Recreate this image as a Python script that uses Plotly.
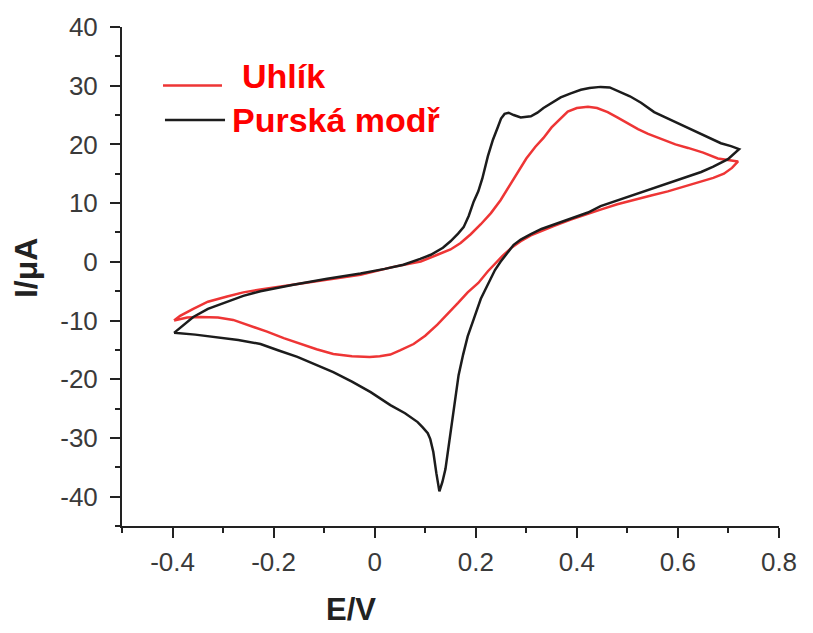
import plotly.graph_objects as go

# Prussian blue (black) cyclic voltammogram: upper (anodic) branch then lower (return) branch
pb_E = [-0.397, -0.375, -0.359, -0.330, -0.292, -0.260, -0.226, -0.161, -0.094, -0.028,
        0.020, 0.057, 0.090, 0.111, 0.135, 0.150, 0.165, 0.176, 0.186, 0.196,
        0.205, 0.213, 0.224, 0.234, 0.243, 0.250, 0.257, 0.265, 0.275, 0.289,
        0.309, 0.322, 0.334, 0.350, 0.368, 0.388, 0.408, 0.425, 0.447, 0.465,
        0.481, 0.505, 0.527, 0.553, 0.590, 0.620, 0.650, 0.685, 0.705, 0.721,
        0.699, 0.670, 0.646, 0.612, 0.580, 0.547, 0.513, 0.480, 0.447, 0.422,
        0.388, 0.354, 0.330, 0.309, 0.289, 0.275, 0.262, 0.249, 0.238, 0.229,
        0.220, 0.210, 0.197, 0.184, 0.175, 0.166, 0.160, 0.154, 0.147, 0.140,
        0.134, 0.128, 0.122, 0.116, 0.110, 0.105, 0.095, 0.085, 0.060, 0.031,
        -0.008, -0.045, -0.082, -0.120, -0.153, -0.190, -0.226, -0.270, -0.312, -0.355,
        -0.397]
pb_I = [-12.1, -10.6, -9.4, -8.0, -6.8, -5.8, -5.0, -3.9, -2.9, -2.0,
        -1.2, -0.5, 0.5, 1.2, 2.4, 3.5, 4.8, 5.9, 7.8, 10.3,
        12.0, 14.2, 18.0, 20.8, 22.8, 24.4, 25.2, 25.4, 25.0, 24.6,
        24.8, 25.4, 26.2, 27.0, 28.0, 28.7, 29.3, 29.6, 29.8, 29.7,
        29.1, 28.2, 27.1, 25.5, 24.0, 22.8, 21.6, 20.2, 19.7, 19.2,
        17.5, 16.2, 15.3, 14.3, 13.4, 12.5, 11.5, 10.5, 9.5, 8.4,
        7.4, 6.4, 5.6, 4.7, 3.8, 2.9, 1.5, 0.0, -1.4, -2.9,
        -4.5, -6.3, -9.5, -12.7, -15.8, -19.3, -23.0, -26.9, -31.0, -35.3,
        -37.5, -39.1, -36.0, -32.4, -30.2, -29.2, -28.2, -27.3, -25.8, -24.4,
        -22.2, -20.4, -18.8, -17.4, -16.2, -15.1, -14.0, -13.3, -12.8, -12.4,
        -12.1]

# Carbon (red) cyclic voltammogram
c_E = [-0.397, -0.385, -0.359, -0.330, -0.292, -0.260, -0.226, -0.161, -0.094, -0.028,
       0.035, 0.091, 0.124, 0.150, 0.170, 0.190, 0.210, 0.230, 0.249, 0.265,
       0.283, 0.300, 0.318, 0.334, 0.350, 0.368, 0.382, 0.400, 0.422, 0.440,
       0.461, 0.480, 0.501, 0.521, 0.541, 0.566, 0.595, 0.620, 0.650, 0.679,
       0.700, 0.719,
       0.707, 0.691, 0.670, 0.646, 0.613, 0.580, 0.547, 0.513, 0.480, 0.447,
       0.422, 0.388, 0.354, 0.330, 0.309, 0.289, 0.272, 0.255, 0.240, 0.224,
       0.205, 0.184, 0.165, 0.145, 0.124, 0.100, 0.077, 0.050, 0.031, 0.010,
       -0.010, -0.045, -0.082, -0.115, -0.147, -0.180, -0.213, -0.250, -0.280, -0.310,
       -0.345, -0.371, -0.397]
c_I = [-10.0, -9.2, -8.0, -6.8, -5.9, -5.2, -4.7, -3.9, -3.0, -2.2,
       -0.9, 0.05, 1.2, 2.1, 3.2, 4.7, 6.4, 8.3, 10.5, 12.7,
       15.4, 17.6, 19.6, 21.1, 22.9, 24.5, 25.6, 26.2, 26.4, 26.2,
       25.5, 24.6, 23.5, 22.6, 21.8, 21.0, 20.0, 19.4, 18.6, 17.6,
       17.3, 17.1,
       16.0, 15.0, 14.3, 13.7, 12.8, 12.0, 11.3, 10.6, 9.8, 8.9,
       8.2, 7.2, 6.1, 5.3, 4.5, 3.5, 2.5, 1.2, -0.1, -1.6,
       -3.6, -5.2, -7.0, -8.8, -10.7, -12.6, -14.0, -15.1, -15.8, -16.1,
       -16.2, -16.1, -15.7, -14.9, -14.0, -13.0, -11.9, -10.8, -9.9, -9.5,
       -9.4, -9.5, -10.0]

legend_names = ["Uhlík", "Purská modř"]
x_ticks = [-0.4, -0.2, 0, 0.2, 0.4, 0.6, 0.8]
x_labels = ["-0.4", "-0.2", "0", "0.2", "0.4", "0.6", "0.8"]
y_ticks = [-40, -30, -20, -10, 0, 10, 20, 30, 40]
y_labels = ["-40", "-30", "-20", "-10", "0", "10", "20", "30", "40"]

RED = "#ee3535"
BLACK = "#1c1c1c"
FONT = "Liberation Sans, Arial, sans-serif"

fig = go.Figure()
fig.add_trace(go.Scatter(x=c_E, y=c_I, mode="lines", name=legend_names[0],
                         line=dict(color=RED, width=2.5), showlegend=False))
fig.add_trace(go.Scatter(x=pb_E, y=pb_I, mode="lines", name=legend_names[1],
                         line=dict(color=BLACK, width=2.5), showlegend=False))

axis_common = dict(showline=True, linecolor="#222222", linewidth=2,
                   ticks="outside", ticklen=10, tickwidth=2, tickcolor="#222222",
                   showgrid=False, zeroline=False, automargin=False,
                   tickfont=dict(family=FONT, size=26, color="#3a3a3a"))

fig.update_xaxes(range=[-0.5, 0.8], tickvals=x_ticks, ticktext=x_labels,
                 minor=dict(dtick=0.1, tick0=-0.5, ticks="outside", ticklen=5,
                            tickwidth=2, tickcolor="#222222"),
                 ticklabelstandoff=2, **axis_common)
fig.update_yaxes(range=[-45, 40], tickvals=y_ticks, ticktext=y_labels,
                 minor=dict(dtick=5, tick0=-45, ticks="outside", ticklen=5,
                            tickwidth=2, tickcolor="#222222"),
                 ticklabelstandoff=7, **axis_common)

# legend drawn as key lines + labels
fig.add_shape(type="line", xref="paper", yref="paper", x0=0.0624, x1=0.1522,
              y0=0.8828, y1=0.8828, line=dict(color=RED, width=2.5))
fig.add_shape(type="line", xref="paper", yref="paper", x0=0.0654, x1=0.1568,
              y0=0.8136, y1=0.8136, line=dict(color=BLACK, width=2.5))
fig.add_annotation(text="<b>" + legend_names[0] + "</b>", xref="paper", yref="paper",
                   x=0.1796, y=0.902, xanchor="left", yanchor="middle", showarrow=False,
                   font=dict(family=FONT, size=34, color="#ff0000"))
fig.add_annotation(text="<b>" + legend_names[1] + "</b>", xref="paper", yref="paper",
                   x=0.1644, y=0.8136, xanchor="left", yanchor="middle", showarrow=False,
                   font=dict(family=FONT, size=34, color="#ff0000"))

# axis titles
fig.add_annotation(text="<b>I/μA</b>", xref="paper", yref="paper", x=-0.1461, y=0.517,
                   xanchor="center", yanchor="middle", textangle=-90, showarrow=False,
                   font=dict(family=FONT, size=32, color="#222222"))
fig.add_annotation(text="<b>E/V</b>", xref="paper", yref="paper", x=0.3486, y=-0.168,
                   xanchor="center", yanchor="middle", showarrow=False,
                   font=dict(family=FONT, size=31, color="#222222"))

# page body has an 8px margin, so the figure is sized/offset to compensate
fig.update_layout(width=805, height=625, margin=dict(l=114, r=34, t=19, b=107),
                  paper_bgcolor="white", plot_bgcolor="white")

fig.write_html("out.html")
